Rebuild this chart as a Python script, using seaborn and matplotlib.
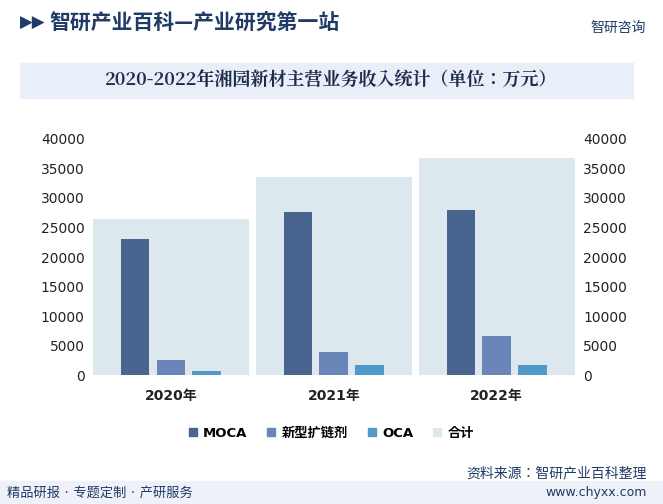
import matplotlib
matplotlib.use("Agg")
import matplotlib.pyplot as plt
from matplotlib import font_manager
import seaborn as sns
import pandas as pd

names = [f.name for f in font_manager.fontManager.ttflist]
sans = next((n for n in names if "Sans CJK SC" in n),
            next((n for n in names if "Sans CJK" in n), "DejaVu Sans"))
serif = next((n for n in names if "Serif CJK" in n), sans)
plt.rcParams["font.family"] = ["DejaVu Sans", sans]
plt.rcParams["font.sans-serif"] = ["DejaVu Sans", sans]

years = ["2020年", "2021年", "2022年"]
moca = [23000, 27600, 27900]
chain = [2600, 3900, 6700]
oca = [700, 1700, 1700]
total = [26500, 33500, 36700]
series = ["MOCA", "新型扩链剂", "OCA"]
colors = ["#4a6490", "#6a86b8", "#4f9ac8"]
total_color = "#dde7ee"

df = pd.DataFrame({
    "year": years * 3,
    "value": moca + chain + oca,
    "series": [s for s in series for _ in years],
})
df_total = pd.DataFrame({"year": years, "value": total})

fig = plt.figure(figsize=(6.63, 5.04), dpi=100)
ax = fig.add_axes([0.135, 0.255, 0.737, 0.47])

sns.barplot(data=df_total, x="year", y="value", color=total_color, width=0.96,
            ax=ax, zorder=1, saturation=1)
sns.barplot(data=df, x="year", y="value", hue="series", palette=colors,
            width=0.66, gap=0.2, ax=ax, zorder=2, saturation=1, legend=False)

ax.set_ylim(0, 40000)
ax.set_yticks(range(0, 40001, 5000))
ax.set_xlabel("")
ax.set_ylabel("")
for s in ax.spines.values():
    s.set_visible(False)
ax.tick_params(length=0, labelsize=10, colors="#222222")
ax.tick_params(axis="x", pad=10)
for t in ax.get_xticklabels():
    t.set_fontweight("bold")
ax2 = ax.twinx()
ax2.set_ylim(0, 40000)
ax2.set_yticks(range(0, 40001, 5000))
for s in ax2.spines.values():
    s.set_visible(False)
ax2.tick_params(length=0, labelsize=10, colors="#222222")

# legend
handles = [plt.Rectangle((0, 0), 1, 1, color=c) for c in colors + [total_color]]
fig.legend(handles, series + ["合计"], loc="center", bbox_to_anchor=(0.5, 0.14),
           ncol=4, frameon=False, handlelength=0.6, handleheight=0.6,
           columnspacing=1.5, handletextpad=0.5,
           prop={"family": ["DejaVu Sans", sans], "weight": "bold", "size": 9.5})

# header
fig.text(0.075, 0.955, "智研产业百科—产业研究第一站", fontsize=15, fontweight="bold",
         color="#1f3b66", va="center", family=sans)
fig.text(0.03, 0.955, "▶▶", fontsize=12, color="#1f3b66", va="center", family="DejaVu Sans")
fig.text(0.975, 0.945, "智研咨询", fontsize=10, color="#1f3b66", va="center", ha="right", family=sans)
fig.patches.append(plt.Rectangle((0.03, 0.805), 0.925, 0.07, transform=fig.transFigure,
                                 color="#e8eff8", zorder=0))
fig.text(0.5, 0.84, "2020-2022年湘园新材主营业务收入统计（单位：万元）", fontsize=13,
         fontweight="bold", color="#1f2d4d", ha="center", va="center", family=serif)

# footer
fig.text(0.975, 0.06, "资料来源：智研产业百科整理", fontsize=10, color="#1f3b66", ha="right",
         va="center", family=sans)
fig.patches.append(plt.Rectangle((0, 0), 1, 0.045, transform=fig.transFigure,
                                 color="#eef2f8", zorder=0))
fig.text(0.01, 0.022, "精品研报 · 专题定制 · 产研服务", fontsize=9.5, color="#1f3b66",
         va="center", family=sans)
fig.text(0.975, 0.022, "www.chyxx.com", fontsize=9, color="#1f3b66", ha="right", va="center")

fig.savefig("out.png", dpi=100)
